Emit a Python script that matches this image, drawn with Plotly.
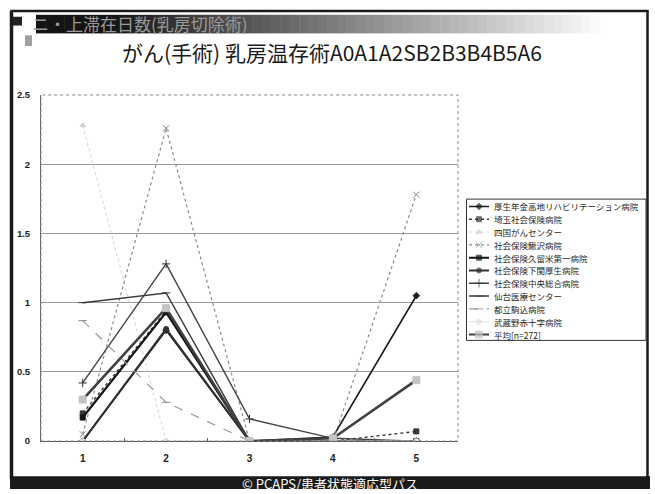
import plotly.graph_objects as go

W, H = 655, 494

# ---- data ----
days = [1, 2, 3, 4, 5]
hospitals = [
    "厚生年金高地リハビリテーション病院",
    "埼玉社会保険病院",
    "四国がんセンター",
    "社会保険鰍沢病院",
    "社会保険久留米第一病院",
    "社会保険下関厚生病院",
    "社会保険中央総合病院",
    "仙台医療センター",
    "都立駒込病院",
    "武蔵野赤十字病院",
    "平均[n=272]",
]
kousei = [0.0, 0.80, 0.0, 0.03, 1.05]
saitama = [0.20, 0.94, 0.0, 0.0, 0.07]
shikoku = [2.28, 0.0, 0.0, 0.0, 0.0]
kajikazawa = [0.05, 2.26, 0.0, 0.0, 1.78]
kurume = [0.17, 0.93, 0.0, 0.0, 0.0]
shimonoseki = [0.0, 0.81, 0.0, 0.0, 0.0]
chuo = [0.42, 1.28, 0.16, 0.02, 0.0]
sendai = [1.00, 1.07, 0.0, 0.0, 0.0]
komagome = [0.87, 0.28, 0.0, 0.0, 0.0]
musashino = [0.0, 0.0, 0.0, 0.0, 0.0]
average = [0.30, 0.96, 0.0, 0.02, 0.44]
series = [kousei, saitama, shikoku, kajikazawa, kurume, shimonoseki,
          chuo, sendai, komagome, musashino, average]
y_ticks = [0, 0.5, 1, 1.5, 2, 2.5]
y_tick_text = ["0", "0.5", "1", "1.5", "2", "2.5"]

# line / marker styles per hospital
styles = [
    dict(c="#1c1c1c", w=1.6, d="solid", s="diamond", ms=5, mc="#1c1c1c"),
    dict(c="#3a3a3a", w=1.4, d="dot", s="square", ms=5, mc="#333333"),
    dict(c="#d6d6d6", w=1.1, d="dot", s="triangle-up", ms=5, mc="#cfcfcf"),
    dict(c="#8a8a8a", w=1.2, d="dot", s="x-thin-open", ms=6, mc="#8a8a8a"),
    dict(c="#151515", w=2.2, d="solid", s="square", ms=5, mc="#151515"),
    dict(c="#303030", w=2.0, d="solid", s="circle", ms=5, mc="#303030"),
    dict(c="#454545", w=1.4, d="solid", s="cross-thin-open", ms=6, mc="#333333"),
    dict(c="#3c3c3c", w=1.5, d="solid", s="line-ew-open", ms=6, mc="#333333"),
    dict(c="#9a9a9a", w=1.2, d="dash", s="line-ew-open", ms=6, mc="#888888"),
    dict(c="#e0e0e0", w=1.0, d="solid", s="circle", ms=5, mc="#dddddd"),
    dict(c="#404040", w=2.6, d="solid", s="square", ms=7, mc="#c4c4c4"),
]

def fx(px):
    return px / W

def fy(py):
    return 1 - py / H

fig = go.Figure()

for name, vals, st in zip(hospitals, series, styles):
    fig.add_trace(go.Scatter(
        x=days, y=vals, mode="lines+markers", name=name, showlegend=False,
        line=dict(color=st["c"], width=st["w"], dash=st["d"]),
        marker=dict(symbol=st["s"], size=st["ms"], color=st["mc"],
                    line=dict(color=st["mc"], width=1)),
        xaxis="x", yaxis="y",
    ))

annotations = []

# legend samples drawn on a small pixel-unit axis, labels in paper space
leg_left, leg_top, leg_step = 463, 205, 13.1
for i, (name, st) in enumerate(zip(hospitals, styles)):
    yc = leg_top + i * leg_step
    fig.add_trace(go.Scatter(
        x=[6, 16, 26], y=[yc, yc, yc], mode="lines+markers", showlegend=False,
        line=dict(color=st["c"], width=min(st["w"], 2.0), dash=st["d"]),
        marker=dict(symbol=st["s"], size=[0, st["ms"], 0], color=st["mc"],
                    line=dict(color=st["mc"], width=1)),
        xaxis="x2", yaxis="y2", hoverinfo="skip",
    ))
    annotations.append(dict(
        x=fx(leg_left + 29), y=fy(yc), xref="paper", yref="paper",
        text=name, showarrow=False, xanchor="left", yanchor="middle",
        font=dict(size=8.5, color="#1e1e1e", family="Noto Sans CJK JP"),
    ))

shapes = []
# outer frame and footer
shapes.append(dict(type="rect", xref="paper", yref="paper",
                   x0=fx(11.5), x1=fx(647.5), y0=fy(484), y1=fy(5),
                   line=dict(color="#1a1a1a", width=2.5), layer="above"))
shapes.append(dict(type="line", xref="paper", yref="paper",
                   x0=fx(11.5), x1=fx(11.5), y0=fy(484), y1=fy(5),
                   line=dict(color="#1a1a1a", width=3.5)))
shapes.append(dict(type="rect", xref="paper", yref="paper",
                   x0=fx(10), x1=fx(650), y0=fy(494), y1=fy(481),
                   fillcolor="#1a1a1a", line=dict(width=0)))

# header band: black fading to grey
n_steps = 60
x_start, x_end = 36, 600
for k in range(n_steps):
    t = k / (n_steps - 1)
    if t < 0.12:
        g = 20
    elif t < 0.7:
        g = int(20 + (170 - 20) * (t - 0.12) / 0.58)
    else:
        g = int(170 + (250 - 170) * (t - 0.7) / 0.3)
    x0 = x_start + (x_end - x_start) * k / n_steps
    x1 = x_start + (x_end - x_start) * (k + 1) / n_steps
    shapes.append(dict(type="rect", xref="paper", yref="paper",
                       x0=fx(x0), x1=fx(x1 + 0.5), y0=fy(28), y1=fy(9),
                       fillcolor=f"rgb({g},{g},{g})", line=dict(width=0)))
shapes.append(dict(type="rect", xref="paper", yref="paper",
                   x0=fx(13), x1=fx(22), y0=fy(20), y1=fy(11),
                   fillcolor="#222222", line=dict(width=0)))
shapes.append(dict(type="rect", xref="paper", yref="paper",
                   x0=fx(25), x1=fx(32), y0=fy(41), y1=fy(30),
                   fillcolor="#a0a0a0", line=dict(width=0)))

# plot frame (dotted) on the chart area
shapes.append(dict(type="rect", xref="x domain", yref="y domain",
                   x0=0, x1=1, y0=0, y1=1,
                   line=dict(color="#888888", width=1, dash="dot")))
# legend box
shapes.append(dict(type="rect", xref="paper", yref="paper",
                   x0=fx(466.5), x1=fx(646), y0=fy(342), y1=fy(197.5),
                   line=dict(color="#333333", width=1)))

annotations += [
    dict(x=fx(332), y=fy(47), xref="paper", yref="paper",
         text="がん(手術) 乳房温存術A0A1A2SB2B3B4B5A6", showarrow=False,
         xanchor="center", yanchor="middle",
         font=dict(size=21, color="#1a1a1a", family="Noto Sans CJK JP")),
    dict(x=fx(30), y=fy(18), xref="paper", yref="paper",
         text="ニ・上滞在日数(乳房切除術)", showarrow=False,
         xanchor="left", yanchor="middle",
         font=dict(size=17, color="#9a9a9a", family="Noto Sans CJK JP")),
    dict(x=fx(330), y=fy(488), xref="paper", yref="paper",
         text="© PCAPS/患者状態適応型パス", showarrow=False,
         xanchor="center", yanchor="middle",
         font=dict(size=13, color="#ffffff", family="Noto Sans CJK JP")),
]

fig.update_layout(
    width=W, height=H,
    margin=dict(l=0, r=0, t=0, b=0),
    paper_bgcolor="white", plot_bgcolor="white",
    showlegend=False,
    font=dict(family="Liberation Sans, Arial", size=9, color="#222222"),
    xaxis=dict(
        domain=[fx(41), fx(458)], range=[0.5, 5.5],
        tickvals=days, ticktext=[f"<b>{d}</b>" for d in days],
        ticks="", showgrid=False, zeroline=False,
        showline=True, linecolor="#555555", linewidth=1,
        tickfont=dict(size=10, color="#222222"),
        minor=dict(tickvals=[1.5, 2.5, 3.5, 4.5], ticks="inside",
                   ticklen=3, tickcolor="#666666", showgrid=False),
        ticklabelstandoff=8,
        fixedrange=True,
    ),
    yaxis=dict(
        domain=[fy(445), fy(91)], range=[0, 2.5],
        tickvals=y_ticks, ticktext=[f"<b>{t}</b>" for t in y_tick_text],
        showgrid=True, gridcolor="#9a9a9a", gridwidth=1,
        zeroline=False, showline=True, linecolor="#666666", linewidth=1,
        ticks="", tickfont=dict(size=9.5, color="#222222"),
        ticklabelstandoff=8,
        fixedrange=True,
    ),
    xaxis2=dict(domain=[fx(463), fx(648)], range=[0, 185], visible=False,
                anchor="y2", fixedrange=True),
    yaxis2=dict(domain=[fy(342), fy(197)], range=[342, 197], visible=False,
                anchor="x2", fixedrange=True),
    shapes=shapes,
    annotations=annotations,
)

fig.write_html("out.html")
